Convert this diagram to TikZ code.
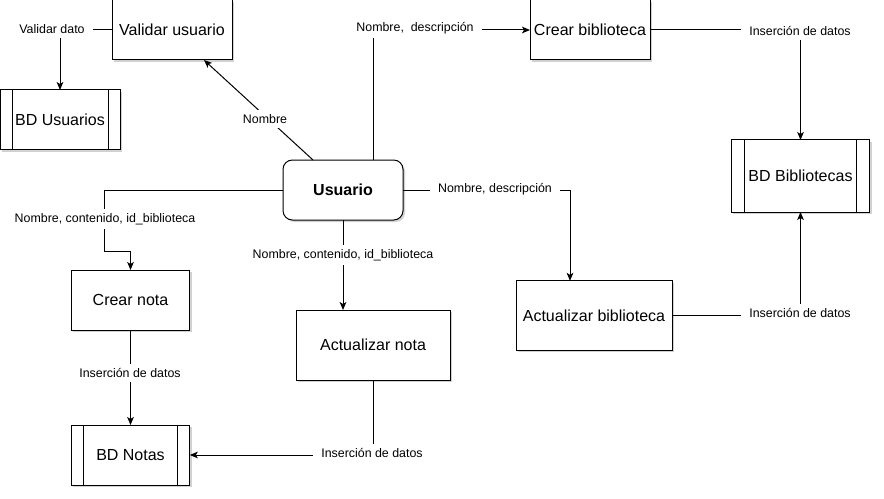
\documentclass[tikz,border=0pt]{standalone}
\usepackage{fontspec}
\setmainfont{Liberation Sans}
\usetikzlibrary{calc,arrows.meta,shadows}

\tikzset{every picture/.style={line width=0.75pt}}
\tikzset{
  proc/.style={draw, fill=white, inner sep=0pt, outer sep=0pt,
    minimum width=90pt, minimum height=45pt, font=\fontsize{12}{14}\selectfont,
    drop shadow={shadow xshift=1.5pt, shadow yshift=-1.5pt, fill=black!40, opacity=0.45}},
  bdbox/.style={proc, path picture={
      \draw ([xshift=#1]path picture bounding box.north west) -- ([xshift=#1]path picture bounding box.south west);
      \draw ([xshift=-#1]path picture bounding box.north east) -- ([xshift=-#1]path picture bounding box.south east);}},
  bdbox/.default=9pt,
  lbl/.style={fill=white, inner xsep=6pt, inner ysep=3pt, font=\fontsize{9.3}{11}\selectfont},
  flow/.style={-{Stealth[length=6pt,width=5pt,inset=1.5pt]}}
}

\begin{document}
\begin{tikzpicture}[x=0.75pt,y=0.75pt,yscale=-1,xscale=1]
\useasboundingbox (0,0) rectangle (884,499);

%Shape: Rectangle
\node [proc] (validar) at (172,30) {Validar usuario};
%Shape: Rectangle
\node [proc] (crearbib) at (590,30) {Crear biblioteca};
%Shape: Rectangle
\node [proc, minimum width=117pt, minimum height=52pt] (actbib) at (594,315.5) {Actualizar biblioteca};
%Shape: Rectangle
\node [proc, minimum width=89pt] (crearnota) at (130.5,300) {Crear nota};
%Shape: Rectangle
\node [proc, minimum width=115.5pt, minimum height=52.5pt] (actnota) at (373,345) {Actualizar nota};
%Shape: Rounded Rect
\node [proc, rounded corners=7pt, font=\fontsize{12}{14}\selectfont\bfseries] (usuario) at (343,190) {Usuario};
%Shape: Process
\node [bdbox] (bdusuarios) at (60,120) {BD Usuarios};
%Shape: Process
\node [bdbox=9.75pt, minimum width=104pt, minimum height=54pt] (bdbib) at (800.5,176) {BD Bibliotecas};
%Shape: Process
\node [bdbox, minimum width=89pt] (bdnotas) at (130.5,455) {BD Notas};

\coordinate (codo) at (104,251);

%Straight Lines
\draw [flow] (validar.west) -| (bdusuarios.north);
\draw [flow] ($(usuario.north)+(-30,0)$) -- ($(validar.south)+(32,0)$);
\draw [flow] ($(usuario.north)+(30,0)$) |- (crearbib.west);
\draw [flow] (crearbib.east) -| (bdbib.north);
\draw [flow] (usuario.east) -| ($(actbib.north)+(-24,0)$);
\draw [flow] (actbib.east) -| (bdbib.south);
\draw [flow] (usuario.west) -| (codo) -| (crearnota.north);
\draw [flow] (usuario.south) -- ($(actnota.north)+(-30,0)$);
\draw [flow] (crearnota.south) -- (bdnotas.north);
\draw [flow] (actnota.south) |- (bdnotas.east);

% Text Node
\node [lbl] (lValidar) at (52,29) {Validar dato};
% Text Node
\node [lbl] (lNombre) at (265,119) {Nombre};
% Text Node
\node [lbl] (lNomDesc1) at (415,28) {Nombre,\ \ descripción};
% Text Node
\node [lbl] (lIns1) at (800,31) {Inserción de datos};
% Text Node
\node [lbl] (lNomDesc2) at (495,189) {Nombre, descripción};
% Text Node
\node [lbl] (lIns2) at (800,313) {Inserción de datos};
% Text Node
\node [lbl] (lNCI1) at (105,219) {Nombre, contenido, id\_biblioteca};
% Text Node
\node [lbl] (lNCI2) at (343,255) {Nombre, contenido, id\_biblioteca};
% Text Node
\node [lbl] (lIns3) at (130,373) {Inserción de datos};
% Text Node
\node [lbl] (lIns4) at (372,453) {Inserción de datos};
\end{tikzpicture}
\end{document}
